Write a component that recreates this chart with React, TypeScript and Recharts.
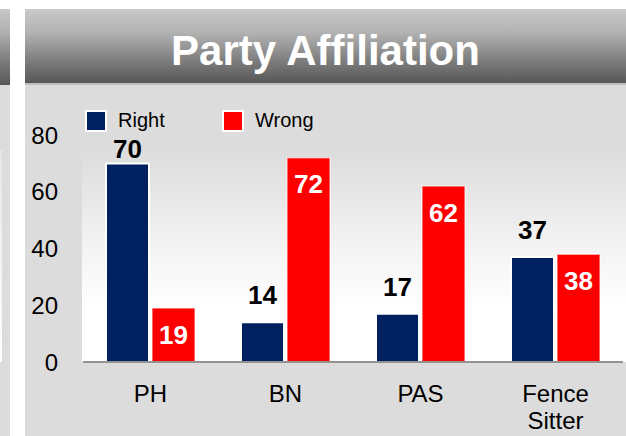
import React from 'react';
import { BarChart, Bar, XAxis, YAxis, Legend, LabelList } from 'recharts';

const categories = ['PH', 'BN', 'PAS', 'Fence Sitter'];
const rightValues = [70, 14, 17, 37];
const wrongValues = [19, 72, 62, 38];
const seriesNames = ['Right', 'Wrong'];
const yTicks = [0, 20, 40, 60, 80];

const NAVY = '#002060';
const RED = '#ff0000';
const FONT = '"Liberation Sans", Arial, Helvetica, sans-serif';

const data = categories.map((name, i) => ({
  name,
  right: rightValues[i],
  wrong: wrongValues[i],
}));

// legend sits at top-left of the plot, labels must stay under it
const LEGEND_BOTTOM = 132;

function RightLabel(props: any) {
  const { x, y, width, value } = props;
  const baseline = Math.max(y - 18, LEGEND_BOTTOM + 26);
  return (
    <text x={x + width / 2} y={baseline} textAnchor="middle" fontSize={26} fontWeight="bold" fill="#000" fontFamily={FONT}>
      {value}
    </text>
  );
}

function CategoryTick(props: any) {
  const { x, y, payload } = props;
  const words = String(payload.value).split(' ');
  return (
    <text x={x} y={y + 40} textAnchor="middle" fontSize={24} fill="#000" fontFamily={FONT}>
      {words.map((w, i) => (
        <tspan key={w} x={x} dy={i === 0 ? 0 : 27}>
          {w}
        </tspan>
      ))}
    </text>
  );
}

function LegendContent() {
  const colors = [NAVY, RED];
  return (
    <div style={{ display: 'flex', alignItems: 'center', fontFamily: FONT }}>
      {seriesNames.map((name, i) => (
        <div key={name} style={{ display: 'flex', alignItems: 'center', width: 137 }}>
          <span
            style={{
              display: 'inline-block',
              width: 18,
              height: 18,
              background: colors[i],
              border: '2px solid #fff',
            }}
          />
          <span style={{ marginLeft: 11, fontSize: 20, color: '#000' }}>{name}</span>
        </div>
      ))}
    </div>
  );
}

export default function App() {
  return (
    <div
      style={{
        position: 'absolute',
        left: 0,
        top: 0,
        width: 626,
        height: 436,
        background: '#fff',
        overflow: 'hidden',
        fontFamily: FONT,
      }}
    >
      {/* edge of the previous panel */}
      <div style={{ position: 'absolute', left: 0, top: 9, width: 10, height: 427, background: '#dcdcdc' }} />
      <div
        style={{
          position: 'absolute',
          left: 0,
          top: 9,
          width: 10,
          height: 76,
          background: 'linear-gradient(to bottom, #c8c8c8 0%, #b0b0b0 30%, #7a7a7a 70%, #585858 100%)',
        }}
      />
      <div style={{ position: 'absolute', left: 0, top: 150, width: 2, height: 212, background: 'linear-gradient(to bottom, #e6e6e6, #ffffff)' }} />

      {/* main panel */}
      <div style={{ position: 'absolute', left: 25, top: 9, width: 601, height: 427, background: '#dcdcdc' }} />
      <div
        style={{
          position: 'absolute',
          left: 25,
          top: 9,
          width: 601,
          height: 76,
          borderTop: '2px solid #cacaca',
          borderBottom: '2px solid #bdbdbd',
          boxSizing: 'border-box',
          background: 'linear-gradient(to bottom, #c6c7c9 0%, #b2b2b2 30%, #7c7c7c 70%, #575757 100%)',
          display: 'flex',
          alignItems: 'center',
          justifyContent: 'center',
          color: '#fff',
          fontWeight: 'bold',
          fontSize: 42,
          paddingTop: 8,
        }}
      >
        Party Affiliation
      </div>
      <div
        style={{
          position: 'absolute',
          left: 82,
          top: 150,
          width: 544,
          height: 212,
          background: 'linear-gradient(to bottom, #dcdcdc 0%, #f3f3f3 45%, #ffffff 75%)',
        }}
      />

      <div style={{ position: 'absolute', left: 0, top: 0 }}>
        <BarChart
          width={626}
          height={436}
          data={data}
          margin={{ top: 135, right: 3, bottom: 14, left: 22 }}
          barSize={43}
          barGap={3}
        >
          <XAxis
            dataKey="name"
            height={60}
            axisLine={{ stroke: '#929292', strokeWidth: 2 }}
            tickLine={false}
            tickSize={0}
            tickMargin={0}
            interval={0}
            tick={<CategoryTick />}
          />
          <YAxis
            width={61}
            domain={[0, 80]}
            ticks={yTicks}
            axisLine={false}
            tickLine={false}
            tickSize={0}
            tickMargin={25}
            tick={{ fontSize: 24, fill: '#000', fontFamily: FONT }}
          />
          <Legend
            content={<LegendContent />}
            align="center"
            verticalAlign="middle"
            wrapperStyle={{ position: 'absolute', top: 109, left: 85, width: 'auto' }}
          />
          <Bar dataKey="right" name={seriesNames[0]} fill={NAVY} stroke="#ffffff" strokeWidth={2} isAnimationActive={false}>
            <LabelList dataKey="right" content={<RightLabel />} />
          </Bar>
          <Bar dataKey="wrong" name={seriesNames[1]} fill={RED} stroke="rgba(255,255,255,0.55)" strokeWidth={1.5} isAnimationActive={false}>
            <LabelList
              dataKey="wrong"
              position="insideTop"
              offset={17}
              fill="#fff"
              fontSize={26}
              fontWeight="bold"
              fontFamily={FONT}
            />
          </Bar>
        </BarChart>
      </div>
    </div>
  );
}
